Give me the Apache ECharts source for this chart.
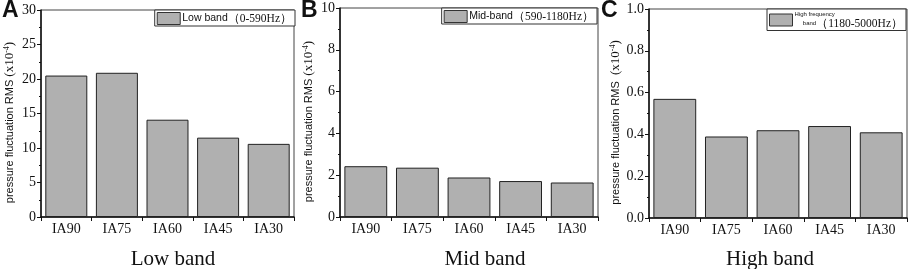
<!DOCTYPE html>
<html><head><meta charset="utf-8">
<script src="https://cdn.jsdelivr.net/npm/echarts@6/dist/echarts.min.js"></script>
<style>html,body{margin:0;padding:0;background:#fff}#c{width:913px;height:269px}</style>
</head><body><div id="c"></div>
<script>
const categories = ['IA90','IA75','IA60','IA45','IA30'];
const lowBand = [20.5, 20.9, 14.1, 11.5, 10.6];
const midBand = [2.43, 2.36, 1.89, 1.72, 1.65];
const highBand = [0.57, 0.39, 0.42, 0.44, 0.41];
const yMax = [30, 10, 1.0];
const yInterval = [5, 2, 0.2];
const panelLetters = ['A','B','C'];
const panelTitles = ['Low band','Mid band','High band'];
const seriesNames = ['Low band（0-590Hz）','Mid-band（590-1180Hz）','High frequency band（1180-5000Hz）'];

const serif = '"Liberation Serif","Times New Roman",serif';
const sans = '"Liberation Sans",Arial,sans-serif';
const grids = [
  {left:41, right:619, top:10, bottom:52},
  {left:340, right:315, top:8, bottom:52},
  {left:649, right:6, top:9, bottom:51}
];
const data = [lowBand, midBand, highBand];
const titleX = [168, 480, 765];
const letterX = [2, 301, 601];
const legendPos = [
  {right:618, top:10},
  {right:316, top:8},
  {right:7, top:9}
];

const option = {
  animation:false,
  backgroundColor:'#fff',
  title: [].concat(
    panelLetters.map((t,i)=>({text:t, left:letterX[i], top:-1, padding:0, textStyle:{fontFamily:sans, fontWeight:'bold', fontSize:23, color:'#111'}})),
    panelTitles.map((t,i)=>({text:t, left:titleX[i], top:244, textAlign:'center', textStyle:{fontFamily:serif, fontWeight:'normal', fontSize:21, color:'#111'}}))
  ),
  grid: grids.map(g=>Object.assign({show:true, borderColor:'#444', borderWidth:1, backgroundColor:'transparent'}, g)),
  legend: [0,1,2].map(i=>({
    seriesIndex:i,
    data:[seriesNames[i]],
    right:legendPos[i].right, top:legendPos[i].top,
    backgroundColor:'#fff',
    borderColor:'#333', borderWidth:1, borderRadius:0,
    padding:[2,3,1,2],
    icon:'rect',
    itemWidth:23, itemHeight:12, itemGap:0,
    itemStyle:{borderColor:'#333', borderWidth:1},
    formatter: function(name){
      if(i===0) return '{a|Low band}{b|（0-590Hz）}';
      if(i===1) return '{a|Mid-band}{b|（590-1180Hz）}';
      return '{s|High frequency\n     band}{b|（1180-5000Hz）}';
    },
    textStyle:{
      padding:[0,0,0,-3],
      rich:{
        a:{fontFamily:sans, fontSize:10.5, color:'#111'},
        b:{fontFamily:serif, fontSize:11.5, color:'#111'},
        s:{fontFamily:sans, fontSize:6, color:'#111', lineHeight:7}
      }
    }
  })),
  xAxis: [0,1,2].map(i=>({
    type:'category', gridIndex:i, data:categories,
    axisLine:{lineStyle:{color:'#111', width:1.5}},
    axisTick:{show:true, length:4, inside:false, lineStyle:{color:'#111'}},
    axisLabel:{fontFamily:serif, fontSize:14, color:'#111', margin:5}
  })),
  yAxis: [0,1,2].map(i=>({
    type:'value', gridIndex:i, min:0, max:yMax[i], interval:yInterval[i],
    name: i===2 ? '{p|pressure fluctuation RMS  }{q|(x10}{e|-4}{q|)}' : '{p|pressure fluctuation RMS }{q|(x10}{e|-4}{q|)}',
    nameLocation:'middle', nameGap: i===2 ? 26 : 24, nameRotate:90,
    nameTextStyle:{padding:[0,18,0,0], rich:{
      p:{fontFamily:sans, fontSize:11, color:'#111'},
      q:{fontFamily:serif, fontSize:13, color:'#111'},
      e:{fontFamily:serif, fontSize:8, color:'#111', verticalAlign:'top', padding:[0,0,6,0]}
    }},
    axisLine:{show:true, lineStyle:{color:'#111', width:1.5}},
    axisTick:{show:true, length:4, lineStyle:{color:'#111'}},
    minorTick:{show:true, splitNumber:2, length:2, lineStyle:{color:'#111'}},
    splitLine:{show:false},
    axisLabel:{fontFamily:serif, fontSize:14, color:'#111', margin:5,
      formatter: v => i===2 ? v.toFixed(1) : String(v)}
  })),
  series: [0,1,2].map(i=>({
    type:'bar', name:seriesNames[i], xAxisIndex:i, yAxisIndex:i,
    data:data[i], barCategoryGap:'17%',
    itemStyle:{color:'#b0b0b0', borderColor:'#222', borderWidth:1}
  }))
};
const chart = echarts.init(document.getElementById('c'), null, {renderer:'canvas'});
chart.setOption(option);
</script></body></html>
